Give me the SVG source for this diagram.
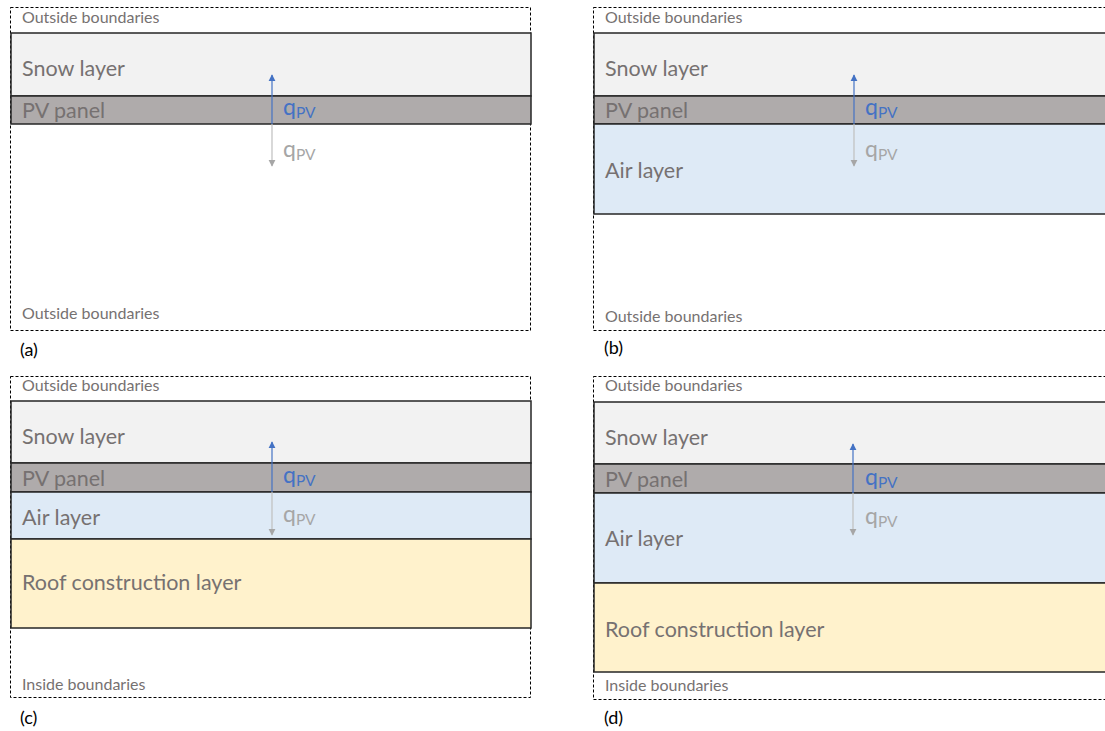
<svg xmlns="http://www.w3.org/2000/svg" width="1105" height="731" viewBox="0 0 1105 731">
<style>
.bnd{fill:none;stroke:#000;stroke-width:1;stroke-dasharray:3 2}
.lay{stroke:#262626;stroke-width:1.5}
.snow{fill:#f2f2f2}
.pv{fill:#afabab}
.air{fill:#deeaf6}
.roof{fill:#fff2cc}
.bt{font-family:Lato,"Liberation Sans",sans-serif;font-size:16px;fill:#767171}
.lt{font-family:Lato,"Liberation Sans",sans-serif;font-size:21.5px;fill:#767171}
.cap{font-family:Lato,"Liberation Sans",sans-serif;font-size:18px;fill:#000}
.qb{font-family:Lato,"Liberation Sans",sans-serif;font-size:23px;fill:#4472c4}
.qg{font-family:Lato,"Liberation Sans",sans-serif;font-size:23px;fill:#a6a6a6}
.sub{font-size:15.5px}
.ab{stroke:#4472c4;stroke-width:1.2;fill:none}
.ag{stroke:#bfbfbf;stroke-width:1.2;fill:none}
</style>
<defs>
<marker id="mb" viewBox="0 0 10 10" refX="9" refY="5" markerWidth="6" markerHeight="6" orient="auto"><path d="M0,0L10,5L0,10z" fill="#4472c4"/></marker>
<marker id="mg" viewBox="0 0 10 10" refX="9" refY="5" markerWidth="6" markerHeight="6" orient="auto"><path d="M0,0L10,5L0,10z" fill="#a6a6a6"/></marker>
</defs>
<rect width="1105" height="731" fill="#fff"/>

<g id="panel-a">
<rect class="bnd" x="10.5" y="7.5" width="520" height="323"/>
<rect class="lay snow" x="11" y="33" width="520" height="63"/>
<rect class="lay pv" x="11" y="96" width="520" height="28"/>
<text class="bt" x="22" y="23">Outside boundaries</text>
<text class="lt" x="22" y="76">Snow layer</text>
<text class="lt" x="22" y="118">PV panel</text>
<text class="bt" x="22" y="319">Outside boundaries</text>
<text class="cap" x="20" y="356">(a)</text>
<text class="qb" x="283" y="115">q<tspan class="sub" dy="3">PV</tspan></text>
<text class="qg" x="283" y="157">q<tspan class="sub" dy="3">PV</tspan></text>
</g>

<g id="panel-b">
<rect class="bnd" x="593.5" y="7.5" width="520" height="323"/>
<rect class="lay snow" x="594" y="33" width="520" height="63"/>
<rect class="lay pv" x="594" y="96" width="520" height="28"/>
<rect class="lay air" x="594" y="124" width="520" height="90"/>
<text class="bt" x="605" y="23">Outside boundaries</text>
<text class="lt" x="605" y="76">Snow layer</text>
<text class="lt" x="605" y="118">PV panel</text>
<text class="lt" x="605" y="178">Air layer</text>
<text class="bt" x="605" y="322">Outside boundaries</text>
<text class="cap" x="604" y="354">(b)</text>
<text class="qb" x="865" y="115">q<tspan class="sub" dy="3">PV</tspan></text>
<text class="qg" x="865" y="157">q<tspan class="sub" dy="3">PV</tspan></text>
</g>

<g id="panel-c">
<rect class="bnd" x="10.5" y="376.5" width="520" height="321"/>
<rect class="lay snow" x="11" y="401" width="520" height="62"/>
<rect class="lay pv" x="11" y="463" width="520" height="29"/>
<rect class="lay air" x="11" y="492" width="520" height="47"/>
<rect class="lay roof" x="11" y="539" width="520" height="89"/>
<text class="bt" x="22" y="391">Outside boundaries</text>
<text class="lt" x="22" y="444">Snow layer</text>
<text class="lt" x="22" y="486">PV panel</text>
<text class="lt" x="22" y="525">Air layer</text>
<text class="lt" x="22" y="590">Roof construction layer</text>
<text class="bt" x="22" y="690">Inside boundaries</text>
<text class="cap" x="20" y="724">(c)</text>
<text class="qb" x="283" y="483">q<tspan class="sub" dy="3">PV</tspan></text>
<text class="qg" x="283" y="522">q<tspan class="sub" dy="3">PV</tspan></text>
</g>

<g id="panel-d">
<rect class="bnd" x="593.5" y="376.5" width="520" height="323"/>
<rect class="lay snow" x="594" y="402" width="520" height="62"/>
<rect class="lay pv" x="594" y="464" width="520" height="29"/>
<rect class="lay air" x="594" y="493" width="520" height="90"/>
<rect class="lay roof" x="594" y="583" width="520" height="89"/>
<text class="bt" x="605" y="391">Outside boundaries</text>
<text class="lt" x="605" y="445">Snow layer</text>
<text class="lt" x="605" y="487">PV panel</text>
<text class="lt" x="605" y="546">Air layer</text>
<text class="lt" x="605" y="637">Roof construction layer</text>
<text class="bt" x="605" y="691">Inside boundaries</text>
<text class="cap" x="604" y="724">(d)</text>
<text class="qb" x="865" y="485">q<tspan class="sub" dy="3">PV</tspan></text>
<text class="qg" x="865" y="524">q<tspan class="sub" dy="3">PV</tspan></text>
</g>

<g id="connectors">
<line class="ab" x1="272" y1="124" x2="272" y2="75" marker-end="url(#mb)"/>
<line class="ag" x1="272" y1="124" x2="272" y2="166" marker-end="url(#mg)"/>
<line class="ab" x1="854" y1="124" x2="854" y2="75" marker-end="url(#mb)"/>
<line class="ag" x1="854" y1="124" x2="854" y2="166" marker-end="url(#mg)"/>
<line class="ab" x1="272" y1="492" x2="272" y2="442" marker-end="url(#mb)"/>
<line class="ag" x1="272" y1="492" x2="272" y2="535" marker-end="url(#mg)"/>
<line class="ab" x1="853" y1="493" x2="853" y2="444" marker-end="url(#mb)"/>
<line class="ag" x1="853" y1="493" x2="853" y2="535" marker-end="url(#mg)"/>
</g>
</svg>
